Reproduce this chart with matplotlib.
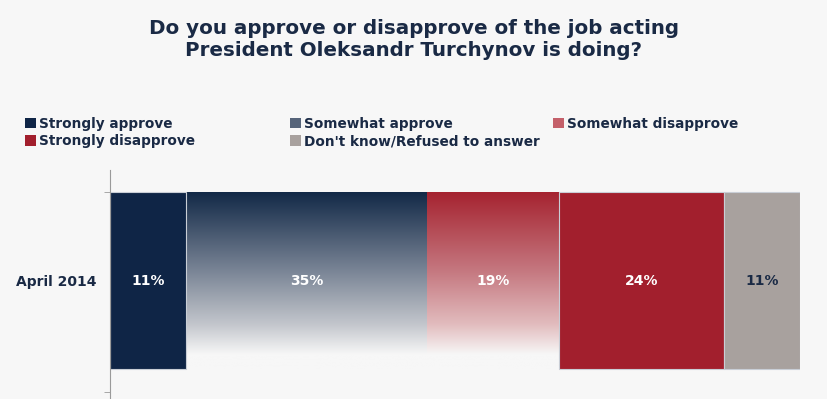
import matplotlib.pyplot as plt
import numpy as np
from matplotlib.colors import LinearSegmentedColormap
from matplotlib.patches import Patch

# data
period = "April 2014"
categories = ["Strongly approve", "Somewhat approve", "Somewhat disapprove",
              "Strongly disapprove", "Don't know/Refused to answer"]
values = [11, 35, 19, 24, 11]
labels = ["11%", "35%", "19%", "24%", "11%"]

BG = "#f7f7f7"
NAVY = "#1a2a45"

# style per segment: solid colour or gradient colormap
solid = {0: "#0f2546", 3: "#a21f2d", 4: "#a8a19e"}
grad = {
    1: LinearSegmentedColormap.from_list(
        "blue", [(0, "#112846"), (0.45, "#7a8596"), (0.75, "#c3c6cc"),
                 (0.92, BG), (1, BG)]),
    2: LinearSegmentedColormap.from_list(
        "red", [(0, "#a5222f"), (0.45, "#c57880"), (0.75, "#e2bcbe"),
                (0.92, BG), (1, BG)]),
}
legend_colors = ["#0f2546", "#56647a", "#c4606a", "#a21f2d", "#a8a19e"]
text_colors = ["white", "white", "white", "white", NAVY]

plt.rcParams['font.family'] = ['DejaVu Sans']

fig = plt.figure(figsize=(8.28, 3.99), dpi=100, facecolor=BG)
ax = fig.add_axes([110 / 828, 0, 690 / 828, 229 / 399], facecolor=BG)

left = 0
for i, v in enumerate(values):
    if i in solid:
        bars = ax.barh(0, v, left=left, height=1, color=solid[i],
                       edgecolor="#c9ced6", linewidth=0.8, zorder=2)
    else:
        bars = ax.barh(0, v, left=left, height=1, color="none",
                       edgecolor="none", zorder=2)
        p = bars[0]
        g = np.linspace(0, 1, 256).reshape(-1, 1)
        im = ax.imshow(g, cmap=grad[i], aspect="auto", zorder=1,
                       extent=[p.get_x(), p.get_x() + p.get_width(),
                               p.get_y(), p.get_y() + p.get_height()])
        im.set_clip_path(p)
    ax.text(left + v / 2, 0, labels[i], ha="center", va="center",
            color=text_colors[i], fontsize=10, fontweight="bold", zorder=3)
    left += v

ax.set_xlim(0, 100)
ax.set_ylim(-0.669, 0.624)
for s in ["top", "right", "bottom"]:
    ax.spines[s].set_visible(False)
ax.spines["left"].set_color("#9a9a9a")
ax.spines["left"].set_linewidth(0.8)
ax.set_xticks([])
ax.set_yticks([0])
ax.set_yticklabels([period], fontsize=10, fontweight="bold", color=NAVY)
ax.tick_params(axis="y", which="major", length=0, pad=10)
ax.set_yticks([0.5, -0.63], minor=True)
ax.tick_params(axis="y", which="minor", length=4, color="#9a9a9a")

fig.text(0.5, 1 - 39 / 399, "Do you approve or disapprove of the job acting\n"
         "President Oleksandr Turchynov is doing?", ha="center", va="center",
         fontsize=14.3, fontweight="bold", color=NAVY, linespacing=1.2)

# legend laid out in three columns, row-major
cols = [[0, 3], [1, 4], [2]]
col_x = [25 / 828, 290 / 828, 553 / 828]
for xs, idx in zip(col_x, cols):
    handles = [Patch(facecolor=legend_colors[i], edgecolor="none") for i in idx]
    leg = fig.legend(handles, [categories[i] for i in idx], loc="upper left",
                     bbox_to_anchor=(xs, 1 - 117 / 399), frameon=False,
                     handlelength=0.8, handleheight=0.8, handletextpad=0.25,
                     labelspacing=0.25, borderpad=0, borderaxespad=0,
                     prop={"weight": "bold", "size": 9.8})
    for t in leg.get_texts():
        t.set_color(NAVY)

fig.savefig("out.png", dpi=100, facecolor=BG)
